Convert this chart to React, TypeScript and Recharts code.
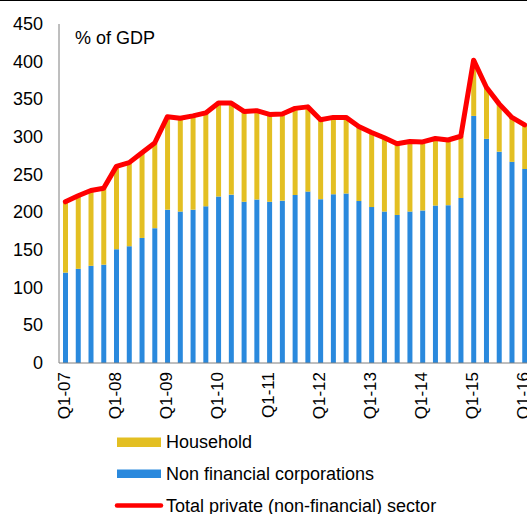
import React from "react";
import { ComposedChart, Bar, Line, XAxis, YAxis } from "recharts";

const quarters = [
  "Q1-07", "Q2-07", "Q3-07", "Q4-07",
  "Q1-08", "Q2-08", "Q3-08", "Q4-08",
  "Q1-09", "Q2-09", "Q3-09", "Q4-09",
  "Q1-10", "Q2-10", "Q3-10", "Q4-10",
  "Q1-11", "Q2-11", "Q3-11", "Q4-11",
  "Q1-12", "Q2-12", "Q3-12", "Q4-12",
  "Q1-13", "Q2-13", "Q3-13", "Q4-13",
  "Q1-14", "Q2-14", "Q3-14", "Q4-14",
  "Q1-15", "Q2-15", "Q3-15", "Q4-15",
  "Q1-16",
];

const nonFinancialCorporations = [
  120, 125, 129, 130.5, 151, 155, 166, 179, 203.5, 201, 203.5, 208, 221, 223.5,
  214, 217, 214, 215.5, 223, 227.5, 217.5, 224, 225, 215, 207, 201, 196.5, 201,
  202.5, 209, 209.5, 219, 328, 297.5, 280.5, 267, 257.5,
];

const household = [
  94, 97, 100, 101.5, 110, 111, 113, 113, 123.5, 124, 124.5, 124, 124, 121.5,
  120, 118, 116, 115, 115, 112.5, 105.5, 102, 101, 99, 99, 98, 94.5, 93, 91, 89,
  86.5, 82, 74, 68.5, 63.5, 59, 58.5,
];

const totalPrivate = [
  214, 222, 229, 232, 261, 266, 279, 292, 327, 325, 328, 332, 345, 345, 334,
  335, 330, 330.5, 338, 340, 323, 326, 326, 314, 306, 299, 291, 294, 293.5, 298,
  296, 301, 402, 366, 344, 326, 316,
];

const yTicks = [0, 50, 100, 150, 200, 250, 300, 350, 400, 450];

const data = quarters.map((q, i) => ({
  q,
  nfc: nonFinancialCorporations[i],
  hh: household[i],
  total: totalPrivate[i],
}));

const FONT = "'Liberation Sans', Arial, sans-serif";
const YELLOW = "#E3BF22";
const BLUE = "#2A89DD";
const RED = "#FF0000";
const AXIS = "#7F7F7F";

const XTick = (props: any) => {
  const { x, y, payload } = props;
  return (
    <text
      x={x - 1}
      y={y}
      transform={`rotate(-90, ${x - 1}, ${y})`}
      textAnchor="end"
      dominantBaseline="central"
      fontFamily={FONT}
      fontSize={17}
      fill="#000"
    >
      {payload.value}
    </text>
  );
};

const YTick = (props: any) => {
  const { x, y, payload } = props;
  return (
    <text
      x={x}
      y={y}
      textAnchor="end"
      dominantBaseline="central"
      fontFamily={FONT}
      fontSize={18}
      fill="#000"
    >
      {payload.value}
    </text>
  );
};

export default function App() {
  return (
    <div
      style={{
        position: "fixed",
        left: 0,
        top: 0,
        width: 527,
        height: 514,
        overflow: "hidden",
        background: "#fff",
      }}
    >
      <div style={{ position: "absolute", left: 0, top: 0 }}>
        <ComposedChart
          width={531}
          height={423}
          data={data}
          margin={{ top: 24, right: 0, bottom: 0, left: 0 }}
          barCategoryGap={0}
        >
          <XAxis
            dataKey="q"
            interval={3}
            tickLine={false}
            tickSize={0}
            tickMargin={9}
            height={60}
            axisLine={{ stroke: AXIS, strokeWidth: 1 }}
            tick={<XTick />}
          />
          <YAxis
            domain={[0, 450]}
            ticks={yTicks}
            width={59}
            tickLine={false}
            tickSize={8}
            tickMargin={8}
            axisLine={{ stroke: AXIS, strokeWidth: 1 }}
            tick={<YTick />}
            allowDataOverflow
          />
          <Bar
            dataKey="nfc"
            stackId="a"
            fill={BLUE}
            barSize={5}
            isAnimationActive={false}
          />
          <Bar
            dataKey="hh"
            stackId="a"
            fill={YELLOW}
            barSize={5}
            isAnimationActive={false}
          />
          <Line
            dataKey="total"
            type="linear"
            stroke={RED}
            strokeWidth={5}
            strokeLinejoin="round"
            strokeLinecap="round"
            dot={false}
            activeDot={false}
            isAnimationActive={false}
          />
        </ComposedChart>
      </div>
      <div
        style={{
          position: "absolute",
          left: 0,
          top: 0,
          width: 527,
          height: 1,
          background: "#000",
        }}
      />
      <svg
        width={527}
        height={514}
        style={{ position: "absolute", left: 0, top: 0, pointerEvents: "none" }}
      >
        <text x={75} y={43.5} fontFamily={FONT} fontSize={18} fill="#000">
          % of GDP
        </text>
        <rect x={117} y={437.5} width={44} height={9.5} fill={YELLOW} />
        <text x={166} y={447.5} fontFamily={FONT} fontSize={18} fill="#000">
          Household
        </text>
        <rect x={117} y={469.5} width={44} height={8.5} fill={BLUE} />
        <text x={166} y={480} fontFamily={FONT} fontSize={18} fill="#000">
          Non financial corporations
        </text>
        <line
          x1={117}
          y1={505.5}
          x2={161}
          y2={505.5}
          stroke={RED}
          strokeWidth={4.5}
          strokeLinecap="round"
        />
        <text x={166} y={512} fontFamily={FONT} fontSize={18} fill="#000">
          Total private (non-financial) sector
        </text>
      </svg>
    </div>
  );
}
